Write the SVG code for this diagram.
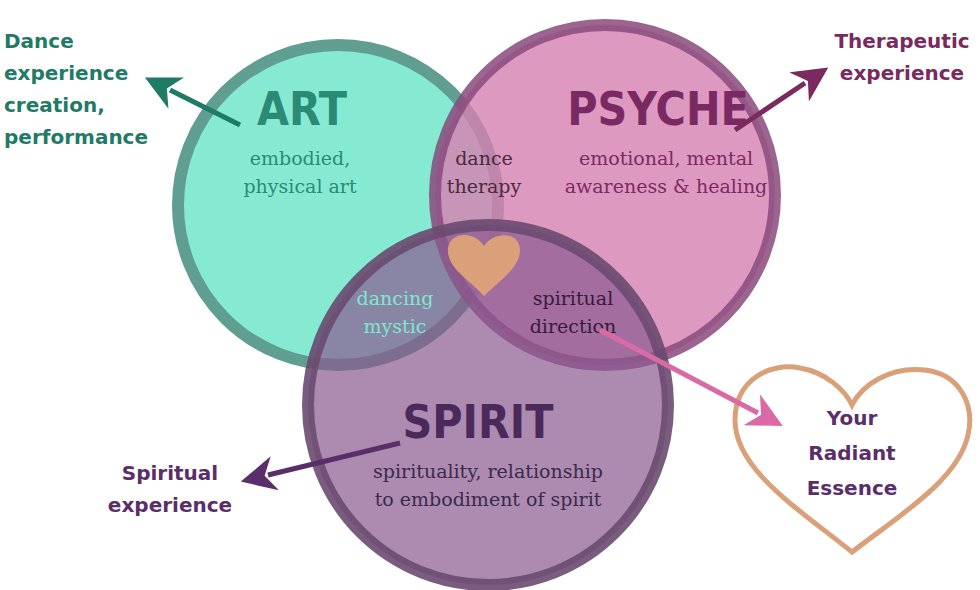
<svg xmlns="http://www.w3.org/2000/svg" width="980" height="590" viewBox="0 0 980 590">
<style>
.t{font-family:"DejaVu Serif",serif;font-size:19px;text-anchor:middle}
.h{font-family:"DejaVu Sans Condensed","DejaVu Sans",sans-serif;font-weight:bold;text-anchor:middle}
.s{font-family:"DejaVu Sans",sans-serif;font-weight:bold;font-size:20px}
</style>
<defs>
<marker id="ag" viewBox="0 0 10 10" refX="2" refY="5" markerWidth="7" markerHeight="7" orient="auto"><path d="M0,0 L10,5 L0,10 L3,5z" fill="#1f7a66"/></marker>
<marker id="ap" viewBox="0 0 10 10" refX="2" refY="5" markerWidth="7" markerHeight="7" orient="auto"><path d="M0,0 L10,5 L0,10 L3,5z" fill="#7a2a5e"/></marker>
<marker id="av" viewBox="0 0 10 10" refX="2" refY="5" markerWidth="7" markerHeight="7" orient="auto"><path d="M0,0 L10,5 L0,10 L3,5z" fill="#5a2e6a"/></marker>
<marker id="ak" viewBox="0 0 10 10" refX="2" refY="5" markerWidth="7" markerHeight="7" orient="auto"><path d="M0,0 L10,5 L0,10 L3,5z" fill="#d96aa6"/></marker>
</defs>
<g id="art"><circle cx="338" cy="205" r="160" fill="#86ead2" stroke="#5f9e90" stroke-width="12"/></g>
<g id="psyche"><circle cx="605" cy="195" r="170" fill="#d680b2" fill-opacity="0.8" stroke="#8a4a7c" stroke-width="12" stroke-opacity="0.85"/></g>
<g id="spirit"><circle cx="488" cy="405" r="180" fill="#8a5a90" fill-opacity="0.7" stroke="#6a4a70" stroke-width="12" stroke-opacity="0.9"/></g>
<g id="heart"><path d="M484,296 C470,280 446,268 448,248 C450,232 474,230 484,246 C494,230 520,232 520,250 C520,268 498,282 484,296z" fill="#d9a07a"/></g>
<g id="labels">
<text class="h" x="302" y="125" font-size="46" fill="#2a8a76">ART</text>
<text class="t" x="300" y="165" fill="#2a8a76">embodied,</text>
<text class="t" x="300" y="193" fill="#2a8a76">physical art</text>
<text class="h" x="658" y="125" font-size="46" fill="#7a2a62">PSYCHE</text>
<text class="t" x="666" y="165" fill="#7a2a62">emotional, mental</text>
<text class="t" x="666" y="193" fill="#7a2a62">awareness &amp; healing</text>
<text class="t" x="484" y="165" fill="#4a2a3a">dance</text>
<text class="t" x="484" y="193" fill="#4a2a3a">therapy</text>
<text class="t" x="395" y="305" fill="#7de8d0">dancing</text>
<text class="t" x="395" y="333" fill="#7de8d0">mystic</text>
<text class="t" x="573" y="305" fill="#3a1a3a">spiritual</text>
<text class="t" x="573" y="333" fill="#3a1a3a">direction</text>
<text class="h" x="478" y="438" font-size="46" fill="#4a2a5a">SPIRIT</text>
<text class="t" x="488" y="478" fill="#3a2a4a">spirituality, relationship</text>
<text class="t" x="488" y="506" fill="#3a2a4a">to embodiment of spirit</text>
</g>
<g id="essence">
<path d="M852,552 C800,510 735,470 735,420 C735,380 770,362 800,368 C825,372 845,390 852,405 C862,385 890,366 925,370 C960,374 975,405 968,435 C958,480 900,515 852,552z" fill="#fff" stroke="#d9a07a" stroke-width="5"/>
<text class="s" x="852" y="425" fill="#5a2e6a" text-anchor="middle" font-size="24">Your</text>
<text class="s" x="852" y="460" fill="#5a2e6a" text-anchor="middle" font-size="24">Radiant</text>
<text class="s" x="852" y="495" fill="#5a2e6a" text-anchor="middle" font-size="24">Essence</text>
</g>
<g id="connectors" stroke-width="5" fill="none">
<line x1="240" y1="125" x2="170" y2="90" stroke="#1f7a66" marker-end="url(#ag)"/>
<line x1="735" y1="130" x2="805" y2="83" stroke="#7a2a5e" marker-end="url(#ap)"/>
<line x1="400" y1="443" x2="268" y2="475" stroke="#5a2e6a" marker-end="url(#av)"/>
<line x1="600" y1="330" x2="758" y2="413" stroke="#d96aa6" marker-end="url(#ak)"/>
</g>
<g id="ext">
<text class="s" x="4" y="48" fill="#1f7a66">Dance</text>
<text class="s" x="4" y="80" fill="#1f7a66">experience</text>
<text class="s" x="4" y="112" fill="#1f7a66">creation,</text>
<text class="s" x="4" y="144" fill="#1f7a66">performance</text>
<text class="s" x="902" y="48" fill="#7a2a5e" text-anchor="middle">Therapeutic</text>
<text class="s" x="902" y="80" fill="#7a2a5e" text-anchor="middle">experience</text>
<text class="s" x="170" y="480" fill="#5a2e6a" text-anchor="middle">Spiritual</text>
<text class="s" x="170" y="512" fill="#5a2e6a" text-anchor="middle">experience</text>
</g>
</svg>
